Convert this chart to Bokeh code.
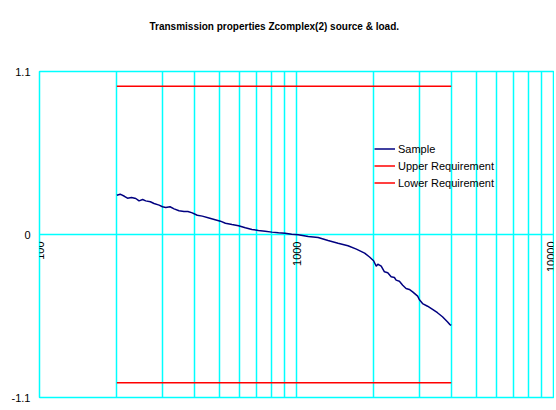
import math
from bokeh.plotting import figure
from bokeh.models import FixedTicker, Legend, LegendItem, Div, Title, BoxAnnotation
from bokeh.layouts import row, column
from bokeh.embed import file_html
from bokeh.resources import INLINE

title_text = "Transmission properties Zcomplex(2) source & load."

freq = [200, 206, 214, 220, 228, 237, 244, 252, 259, 270,
        279, 292, 301, 310, 322, 334, 349, 365, 378, 393,
        411, 430, 460, 506, 529, 561, 595, 632, 671, 711,
        755, 802, 851, 903, 958, 1016, 1111, 1214, 1327, 1451,
        1586, 1710, 1841, 1924, 1995, 2043, 2072, 2136, 2199, 2265,
        2335, 2404, 2441, 2514, 2590, 2669, 2748, 2831, 2961, 3004,
        3094, 3236, 3384, 3536, 3698, 3865, 3950, 4000]
sample = [0.265, 0.272, 0.258, 0.245, 0.250, 0.243, 0.227, 0.236, 0.227, 0.221,
          0.209, 0.198, 0.187, 0.182, 0.187, 0.173, 0.160, 0.155, 0.155, 0.146,
          0.130, 0.124, 0.110, 0.090, 0.076, 0.067, 0.059, 0.045, 0.034, 0.027,
          0.022, 0.016, 0.011, 0.009, 0.002, -0.001, -0.013, -0.020, -0.040, -0.059,
          -0.076, -0.099, -0.126, -0.152, -0.177, -0.214, -0.200, -0.214, -0.252, -0.258,
          -0.285, -0.290, -0.308, -0.315, -0.342, -0.364, -0.371, -0.387, -0.416, -0.439,
          -0.466, -0.484, -0.506, -0.528, -0.555, -0.589, -0.608, -0.612]

req_freq = [200, 4000]
upper_req = [1.0, 1.0]
lower_req = [-1.0, -1.0]

x_ticks = [100, 1000, 10000]
x_tick_labels = ["100", "1000", "10000"]
x_grid_ticks = [100, 200, 300, 400, 500, 600, 700, 800, 900,
                1000, 2000, 3000, 4000, 5000, 6000, 7000, 8000, 9000, 10000]
y_ticks = [-1.1, 0, 1.1]
y_tick_labels = ["-1.1", "0", "1.1"]

FONT = "Liberation Sans"
CYAN = "#00FFFF"

W, H = 546, 393
ML, MR, MT, MB = 28, 1, 61, 6

p = figure(width=W, height=H, x_axis_type="log",
           x_range=(100, 10000), y_range=(-1.1, 1.1),
           output_backend="svg", toolbar_location=None,
           min_border_left=ML, min_border_right=MR,
           min_border_top=MT, min_border_bottom=MB,
           background_fill_color="white", border_fill_color="white")

p.outline_line_color = CYAN
p.outline_line_width = 1.5

# spacer between the plot area and the title, then the title itself
spacer = Title(text=" ", text_font_size="1px", standoff=37)
p.add_layout(spacer, "above")
p.add_layout(Title(text=title_text, text_font=FONT, text_font_size="10px",
                   text_font_style="bold", text_color="#000000",
                   align="left", offset=110, standoff=0), "above")

# grids
p.xgrid.ticker = FixedTicker(ticks=x_grid_ticks)
p.xgrid.grid_line_color = CYAN
p.xgrid.grid_line_width = 1.5
p.ygrid.ticker = FixedTicker(ticks=y_ticks)
p.ygrid.grid_line_color = CYAN
p.ygrid.grid_line_width = 1.5

# x axis drawn at y = 0
xa = p.xaxis[0]
xa.ticker = FixedTicker(ticks=x_ticks)
xa.major_label_overrides = {t: l for t, l in zip(x_ticks, x_tick_labels)}
xa.fixed_location = 0
xa.axis_line_color = None
xa.major_tick_line_color = None
xa.minor_tick_line_color = None
xa.major_tick_out = 0
xa.major_tick_in = 0
xa.major_label_orientation = math.pi / 2
xa.major_label_standoff = 7
xa.major_label_text_font = FONT
xa.major_label_text_font_size = "11px"
xa.major_label_text_color = "#000000"

ya = p.yaxis[0]
ya.ticker = FixedTicker(ticks=y_ticks)
ya.major_label_overrides = {t: l for t, l in zip(y_ticks, y_tick_labels)}
ya.axis_line_color = None
ya.major_tick_line_color = None
ya.minor_tick_line_color = None
ya.major_tick_out = 0
ya.major_tick_in = 0
ya.major_label_standoff = 9
ya.major_label_text_font = FONT
ya.major_label_text_font_size = "11px"
ya.major_label_text_color = "#000000"

r_up = p.line(req_freq, upper_req, line_color="#FF0000", line_width=1.5)
r_lo = p.line(req_freq, lower_req, line_color="#FF0000", line_width=1.5)
r_s = p.line(freq, sample, line_color="#000080", line_width=1.5)

legend = Legend(items=[LegendItem(label="Sample", renderers=[r_s]),
                       LegendItem(label="Upper Requirement", renderers=[r_up]),
                       LegendItem(label="Lower Requirement", renderers=[r_lo])],
                location=(335, 206))
legend.background_fill_alpha = 0
legend.border_line_alpha = 0
legend.padding = 0
legend.margin = 0
legend.spacing = 0
legend.glyph_width = 21
legend.glyph_height = 17
legend.label_height = 17
legend.label_standoff = 3
legend.label_text_font = FONT
legend.label_text_font_size = "11px"
legend.label_text_color = "#000000"
p.add_layout(legend, "center")

# outer chart border: left and top edges of the canvas, converted to data units
fw = W - ML - MR
fh = H - MT - MB
px_per_decade = fw / 2.0
y_per_px = 2.2 / fh
def x_at(px_from_frame_left):
    return 100 * 10 ** (px_from_frame_left / px_per_decade)
left_edge = BoxAnnotation(left=x_at(-ML), right=x_at(-ML + 2), top=3, bottom=-3,
                          fill_color="#000000", fill_alpha=1, line_color=None,
                          level="overlay")
top_edge = BoxAnnotation(left=x_at(-ML), right=30000,
                         top=1.1 + MT * y_per_px, bottom=1.1 + (MT - 2) * y_per_px,
                         fill_color="#000000", fill_alpha=1, line_color=None,
                         level="overlay")
p.add_layout(left_edge)
p.add_layout(top_edge)

left_gap = Div(text="", width=6, height=405, margin=0)
top_gap = Div(text="", width=548, height=8, margin=0)
left_bar = Div(text="", width=2, height=395, margin=0)
top_bar = Div(text="", width=546, height=2, margin=0)
page = row(left_gap,
           column(top_gap, row(left_bar, column(top_bar, p, spacing=0), spacing=0), spacing=0),
           spacing=0)

open("out.html", "w").write(file_html(page, INLINE))
